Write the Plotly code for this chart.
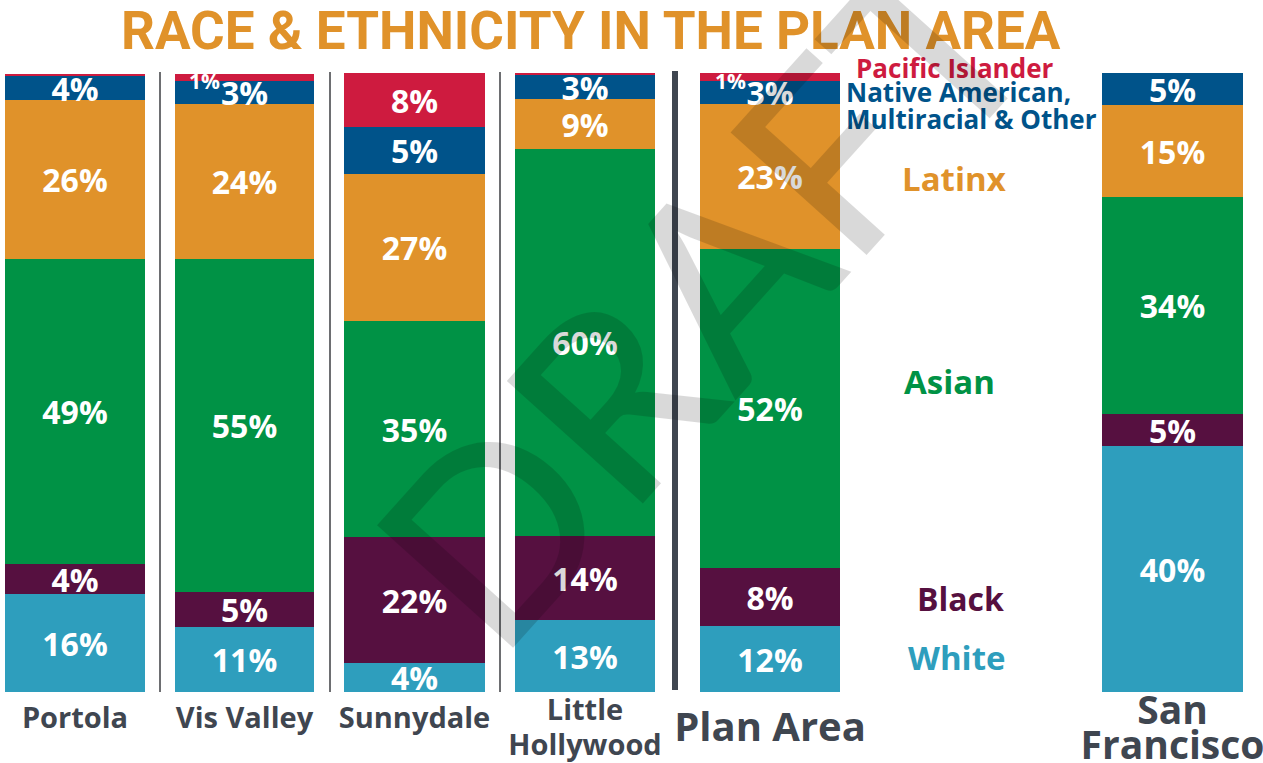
import plotly.graph_objects as go

# ---------------- data ----------------
locations = ["Portola", "Vis Valley", "Sunnydale", "Little<br>Hollywood", "Plan Area", "San<br>Francisco"]
groups = ["White", "Black", "Asian", "Latinx", "Native American,", "Pacific Islander"]
native_line2 = "Multiracial &amp; Other"

white = [15.8, 10.5, 4.7, 11.6, 10.7, 39.7]
black = [4.8, 5.7, 20.4, 13.6, 9.4, 5.2]
asian = [49.4, 53.8, 34.9, 62.5, 51.5, 35.1]
latinx = [25.7, 25.0, 23.7, 8.1, 23.4, 14.9]
native = [3.8, 3.7, 7.6, 3.8, 3.7, 5.1]
pacific = [0.4, 1.2, 8.7, 0.4, 1.3, 0.0]

white_lbl = ["16%", "11%", "4%", "13%", "12%", "40%"]
black_lbl = ["4%", "5%", "22%", "14%", "8%", "5%"]
asian_lbl = ["49%", "55%", "35%", "60%", "52%", "34%"]
latinx_lbl = ["26%", "24%", "27%", "9%", "23%", "15%"]
native_lbl = ["4%", "3%", "5%", "3%", "3%", "5%"]
pacific_lbl = ["", "1%", "8%", "", "1%", ""]

title_text = "RACE &amp; ETHNICITY IN THE PLAN AREA"
watermark = "DRAFT"

# ---------------- style ----------------
W, H = 1263, 763
colors = ["#2E9EBD", "#561040", "#009245", "#E0922A", "#00538A", "#CE1B3F"]
series = [white, black, asian, latinx, native, pacific]
labels = [white_lbl, black_lbl, asian_lbl, latinx_lbl, native_lbl, pacific_lbl]
FONT = "Open Sans, Noto Sans, DejaVu Sans, sans-serif"
DARK = "#3F4650"

# pixel extents of each bar column
bar_px = [(5, 145), (175, 314), (344, 485), (515, 655), (700, 840), (1102, 1243)]
tick_size = [29, 29, 29, 29, 40, 39]
tick_standoff = [6, 6, 6, 0, 8, 4]
y_top_px, y_bot_px = 73, 692
BASE_TICK = 27  # base size sets the line spacing of two-line labels


def tick_html(label, size):
    if "<br>" not in label:
        return label
    return "<br>".join(f'<span style="font-size:{size}px">{ln}</span>'
                       for ln in label.split("<br>"))


fig = go.Figure()
annotations = []

for i, loc in enumerate(locations):
    ax = "x" if i == 0 else f"x{i+1}"
    cum = 0.0
    for g, (vals, lbls, col) in enumerate(zip(series, labels, colors)):
        v = vals[i]
        t = lbls[i]
        small = v < 3 and t != ""
        fig.add_trace(go.Bar(
            x=[loc], y=[v], xaxis=ax, yaxis="y",
            marker=dict(color=col, line=dict(width=0)),
            text=[t if not small else ""],
            textposition="inside", insidetextanchor="middle",
            textangle=0, constraintext="none",
            textfont=dict(family=FONT, size=32, color="white", weight="bold"),
            name=groups[g], showlegend=False, hoverinfo="skip",
        ))
        if small:
            annotations.append(dict(
                x=loc, y=cum + v / 2, xref=ax, yref="y", text=t, showarrow=False,
                xshift=-40, yshift=-4,
                font=dict(family=FONT, size=21, color="white", weight="bold"),
            ))
        cum += v

layout = dict(
    width=W, height=H, margin=dict(l=0, r=0, t=0, b=0, autoexpand=False),
    paper_bgcolor="white", plot_bgcolor="white",
    barmode="stack", bargap=0,
    yaxis=dict(range=[0, 100], domain=[1 - y_bot_px / H, 1 - y_top_px / H],
               visible=False, fixedrange=True, automargin=False),
)
for i, (x0, x1) in enumerate(bar_px):
    key = "xaxis" if i == 0 else f"xaxis{i+1}"
    multi = "<br>" in locations[i]
    layout[key] = dict(
        domain=[x0 / W, x1 / W], anchor="y", type="category",
        showline=False, showgrid=False, zeroline=False, ticks="",
        tickvals=[locations[i]], ticktext=[tick_html(locations[i], tick_size[i])],
        tickfont=dict(family=FONT, size=BASE_TICK if multi else tick_size[i],
                      color=DARK, weight="bold"),
        ticklabelstandoff=tick_standoff[i], fixedrange=True, automargin=False,
    )
fig.update_layout(**layout)

# separators
for xp in [160, 330, 500]:
    fig.add_shape(type="line", xref="paper", yref="paper",
                  x0=xp / W, x1=xp / W, y0=1 - 692 / H, y1=1 - 72 / H,
                  line=dict(color="#6D6E71", width=2))
fig.add_shape(type="line", xref="paper", yref="paper",
              x0=675 / W, x1=675 / W, y0=1 - 690 / H, y1=1 - 71 / H,
              line=dict(color=DARK, width=6))

# title
annotations.append(dict(
    x=591 / W, y=1 - 31 / H, xref="paper", yref="paper", text=title_text,
    showarrow=False, xanchor="center", yanchor="middle",
    font=dict(family="Liberation Sans Narrow, Roboto, Open Sans, sans-serif",
              size=53, color="#E0922A", weight="bold"),
))

# right side group labels
side = [
    (groups[5], 955, 68, colors[5], 26, "center"),
    (groups[4], 844, 92, colors[4], 26, "left"),
    (native_line2, 844, 119, colors[4], 26, "left"),
    (groups[3], 954, 178, colors[3], 33, "center"),
    (groups[2], 949, 381, colors[2], 33, "center"),
    (groups[1], 960, 598, colors[1], 32, "center"),
    (groups[0], 957, 657, colors[0], 33, "center"),
]
for txt, xp, yp, col, sz, anc in side:
    annotations.append(dict(
        x=xp / W, y=1 - yp / H, xref="paper", yref="paper", text=txt,
        showarrow=False, xanchor=anc, yanchor="middle", align="left",
        font=dict(family=FONT, size=sz, color=col, weight="bold"),
    ))

# watermark
annotations.append(dict(
    x=700 / W, y=1 - 292 / H, xref="paper", yref="paper", text=watermark,
    showarrow=False, xanchor="center", yanchor="middle", textangle=-48,
    font=dict(family="Lato, DejaVu Sans, sans-serif", size=255,
              color="rgba(0,0,0,0.15)", weight=500),
))

fig.update_layout(annotations=annotations)
fig.write_html("out.html")
